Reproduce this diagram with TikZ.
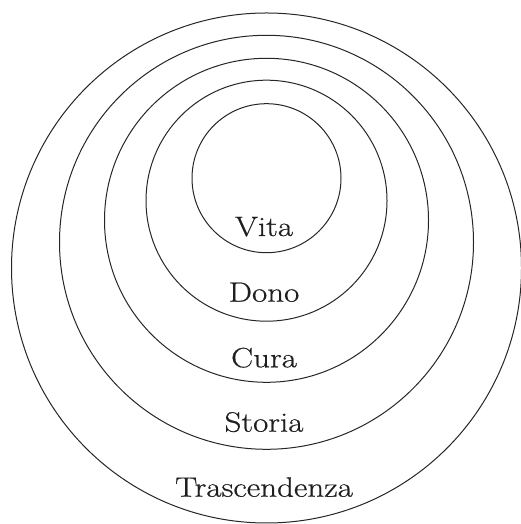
\documentclass[tikz,border=0pt]{standalone}
\usepackage{fontspec}
\setmainfont{Latin Modern Roman}
\newfontfamily\lblfont[FakeStretch=1.18,FakeBold=0.6]{Latin Modern Roman}
\begin{document}
\begin{tikzpicture}[x=1pt,y=1pt,
  ring/.style={draw=black!85, line width=1pt},
  lbl/.style={anchor=base, inner sep=0pt, font=\lblfont\fontsize{28}{32}\selectfont, text=black!88}]
\useasboundingbox (0,0) rectangle (521,524);
\draw[ring] (266.5,345.8) circle (74.5);
\draw[ring] (266.5,323.3) circle (120.5);
\draw[ring] (266.5,303.7) circle (162);
\draw[ring] (266.5,281.7) circle (207);
\draw[ring] (266.5,256) circle (255);
\node[lbl] (vita) at (264,288) {Vita};
\node[lbl] (dono) at (264,222.3) {Dono};
\node[lbl] (cura) at (264,156.7) {Cura};
\node[lbl] (storia) at (264,92.3) {Storia};
\node[lbl] (trasc) at (264,27.3) {Trascendenza};
\end{tikzpicture}
\end{document}
